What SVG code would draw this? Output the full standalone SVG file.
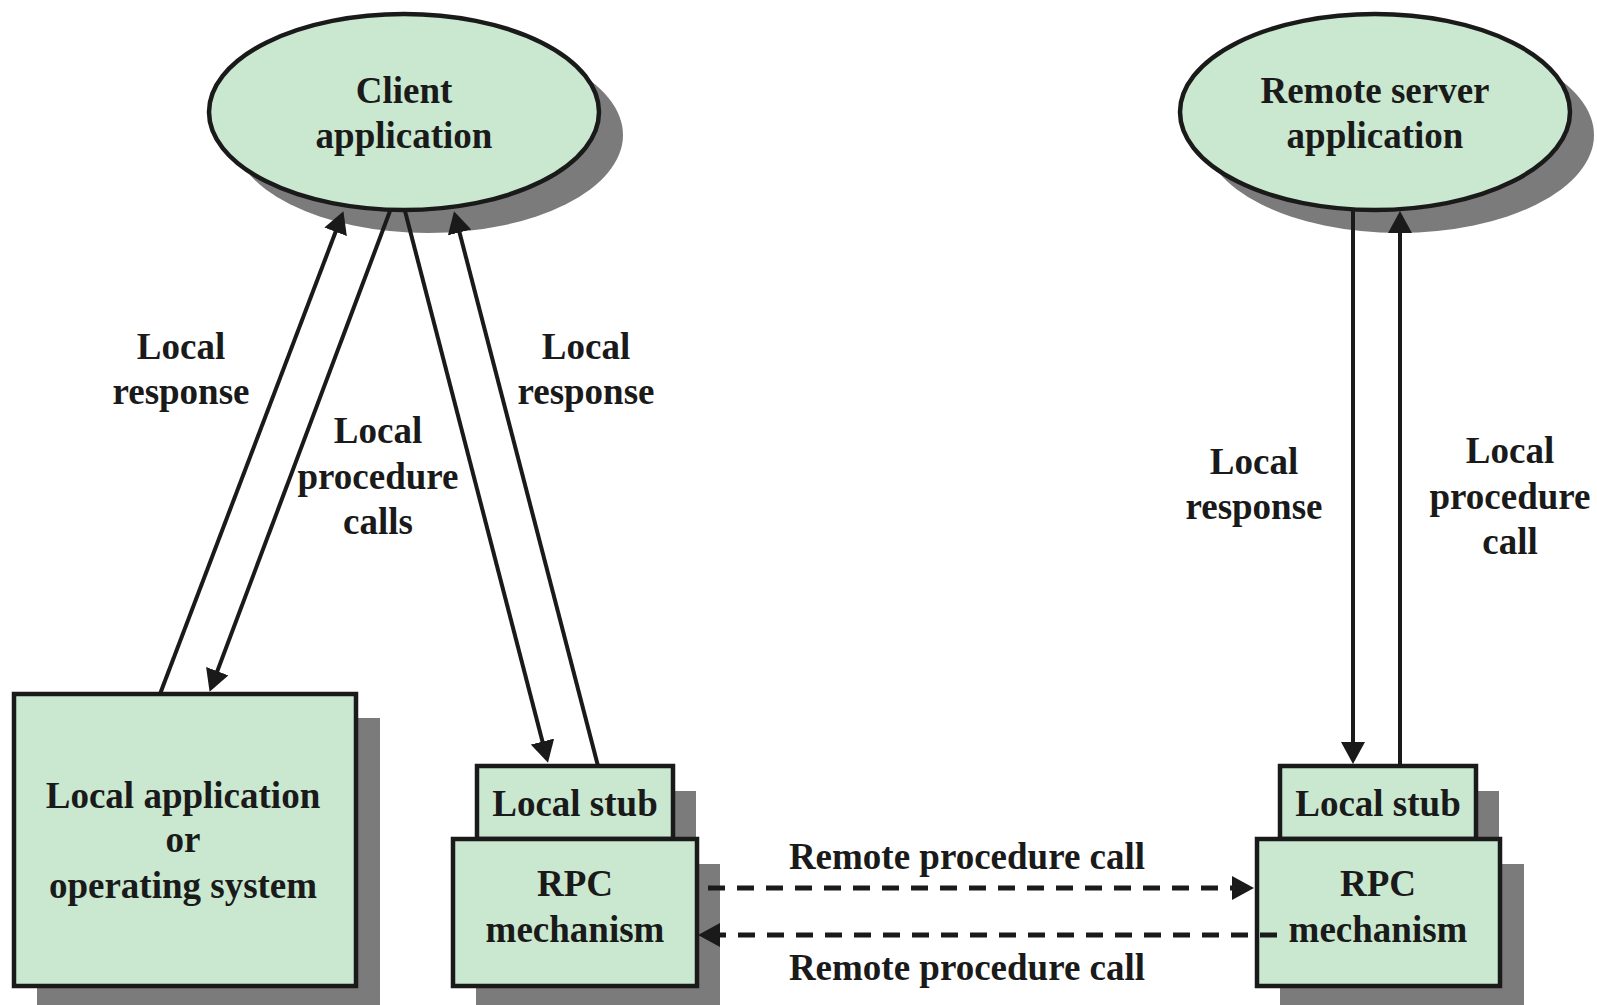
<svg xmlns="http://www.w3.org/2000/svg" width="1597" height="1005" viewBox="0 0 1597 1005">
  <style>
    .shadow { fill: #7b7b7b; }
    .node { fill: #c9e8cf; stroke: #1a1a1a; stroke-width: 4.5; }
    .lbl { font-family: "Liberation Serif", "Times New Roman", serif; font-weight: bold; font-size: 37px; fill: #1a1a1a; text-anchor: middle; }
    .conn { stroke: #1a1a1a; stroke-width: 4; fill: none; }
    .dash { stroke: #1a1a1a; stroke-width: 5; fill: none; stroke-dasharray: 17 12; }
  </style>
  <defs>
    <marker id="arrow" viewBox="0 0 22 24" markerWidth="22" markerHeight="24" refX="18" refY="12" orient="auto" markerUnits="userSpaceOnUse">
      <path d="M0,0 L22,12 L0,24 z" fill="#1a1a1a"/>
    </marker>
  </defs>
  <rect width="1597" height="1005" fill="#ffffff"/>

  <!-- Client application -->
  <g id="client">
    <ellipse class="shadow" cx="428" cy="135" rx="195" ry="98"/>
    <ellipse class="node" cx="404" cy="112" rx="195" ry="98"/>
    <text class="lbl" x="404" y="103">Client</text>
    <text class="lbl" x="404" y="148">application</text>
  </g>

  <!-- Remote server application -->
  <g id="server">
    <ellipse class="shadow" cx="1399" cy="135" rx="195" ry="98"/>
    <ellipse class="node" cx="1375" cy="112" rx="195" ry="98"/>
    <text class="lbl" x="1375" y="103">Remote server</text>
    <text class="lbl" x="1375" y="148">application</text>
  </g>

  <!-- Local application or operating system -->
  <g id="localapp">
    <rect class="shadow" x="37" y="718" width="343" height="300"/>
    <rect class="node" x="14" y="694" width="342" height="292"/>
    <text class="lbl" x="183" y="808">Local application</text>
    <text class="lbl" x="183" y="852">or</text>
    <text class="lbl" x="183" y="898">operating system</text>
  </g>

  <!-- Client side stub + RPC mechanism -->
  <g id="client-stub">
    <rect class="shadow" x="500" y="791" width="196" height="73"/>
    <rect class="node" x="477" y="766" width="196" height="73"/>
    <text class="lbl" x="575" y="816">Local stub</text>
  </g>
  <g id="client-rpc">
    <rect class="shadow" x="476" y="864" width="244" height="160"/>
    <rect class="node" x="453" y="839" width="244" height="147"/>
    <text class="lbl" x="575" y="896">RPC</text>
    <text class="lbl" x="575" y="942">mechanism</text>
  </g>

  <!-- Server side stub + RPC mechanism -->
  <g id="server-stub">
    <rect class="shadow" x="1303" y="791" width="196" height="73"/>
    <rect class="node" x="1280" y="766" width="196" height="73"/>
    <text class="lbl" x="1378" y="816">Local stub</text>
  </g>
  <g id="server-rpc">
    <rect class="shadow" x="1280" y="864" width="244" height="160"/>
    <rect class="node" x="1257" y="839" width="243" height="147"/>
    <text class="lbl" x="1378" y="896">RPC</text>
    <text class="lbl" x="1378" y="942">mechanism</text>
  </g>

  <!-- Connectors -->
  <g id="connectors">
    <line class="conn" x1="160" y1="694" x2="342" y2="215" marker-end="url(#arrow)"/>
    <line class="conn" x1="390" y1="211" x2="211" y2="688" marker-end="url(#arrow)"/>
    <line class="conn" x1="405" y1="211" x2="547" y2="759" marker-end="url(#arrow)"/>
    <line class="conn" x1="598" y1="766" x2="455" y2="215" marker-end="url(#arrow)"/>
    <line class="conn" x1="1353" y1="211" x2="1353" y2="760" marker-end="url(#arrow)"/>
    <line class="conn" x1="1400" y1="766" x2="1400" y2="215" marker-end="url(#arrow)"/>
    <line class="dash" x1="708" y1="888" x2="1250" y2="888" marker-end="url(#arrow)"/>
    <line class="dash" x1="1277" y1="935" x2="702" y2="935" marker-end="url(#arrow)"/>
  </g>

  <!-- Connector labels -->
  <g id="labels">
    <text class="lbl" x="181" y="359">Local</text>
    <text class="lbl" x="181" y="404">response</text>
    <text class="lbl" x="378" y="443">Local</text>
    <text class="lbl" x="378" y="489">procedure</text>
    <text class="lbl" x="378" y="534">calls</text>
    <text class="lbl" x="586" y="359">Local</text>
    <text class="lbl" x="586" y="404">response</text>
    <text class="lbl" x="1254" y="474">Local</text>
    <text class="lbl" x="1254" y="519">response</text>
    <text class="lbl" x="1510" y="463">Local</text>
    <text class="lbl" x="1510" y="509">procedure</text>
    <text class="lbl" x="1510" y="554">call</text>
    <text class="lbl" x="967" y="869">Remote procedure call</text>
    <text class="lbl" x="967" y="980">Remote procedure call</text>
  </g>
</svg>
